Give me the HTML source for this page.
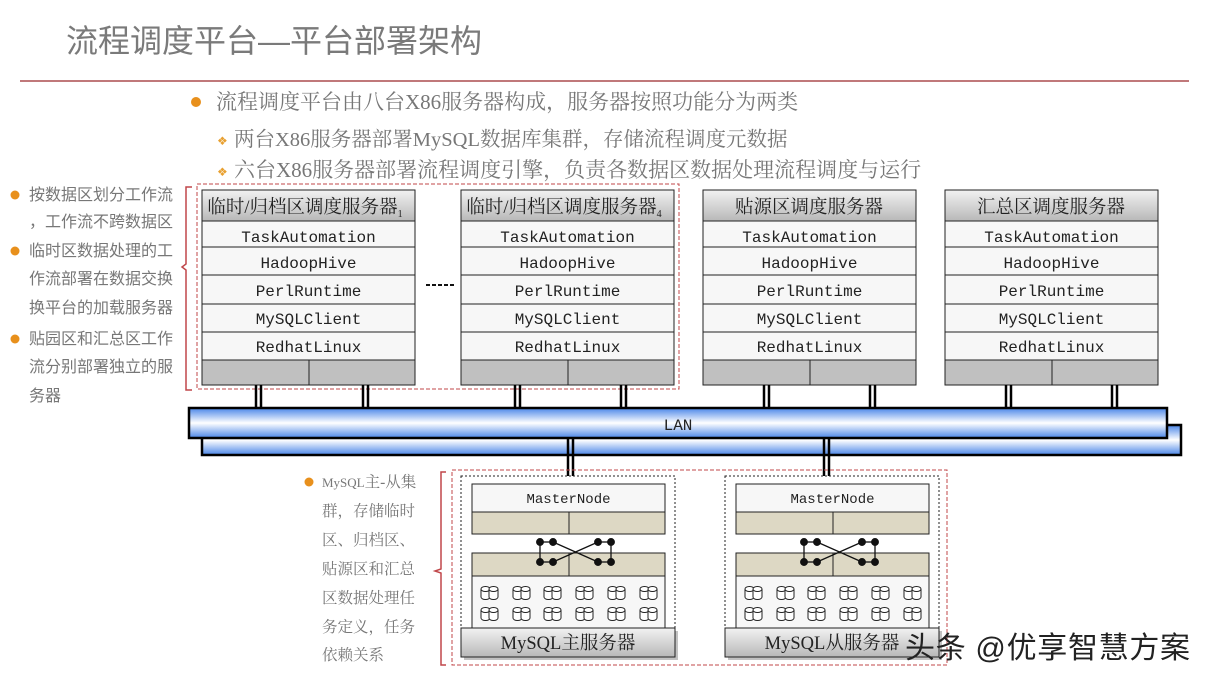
<!DOCTYPE html>
<html><head><meta charset="utf-8"><style>
body{margin:0;background:#fff;}
svg{display:block}
.t{font-family:"Liberation Mono","Noto Serif CJK SC",monospace;font-size:16px;fill:#222;text-anchor:middle}
.h{font-family:"Liberation Serif","Noto Serif CJK SC",serif;font-size:18.5px;fill:#222;text-anchor:middle}
.g{font-family:"Liberation Sans","Noto Sans CJK SC",sans-serif;fill:#777}
.s{font-family:"Liberation Serif","Noto Serif CJK SC",serif;fill:#777}
</style></head><body>
<svg width="1209" height="680" xmlns="http://www.w3.org/2000/svg">
<defs>
<linearGradient id="hg" x1="0" y1="0" x2="0" y2="1"><stop offset="0" stop-color="#f2f2f2"/><stop offset="1" stop-color="#b8b8b8"/></linearGradient>
<linearGradient id="lan" x1="0" y1="0" x2="0" y2="1"><stop offset="0" stop-color="#4a86e8"/><stop offset="0.5" stop-color="#ffffff"/><stop offset="1" stop-color="#4a86e8"/></linearGradient>
<g id="c1" fill="#fff" stroke="#222" stroke-width="1">
<path d="M0,3 L0,11 A4.5,2.5 0 0 0 9,11 L9,3"/>
<ellipse cx="4.5" cy="3" rx="4.5" ry="2.5"/>
</g>
<g id="cyl"><use href="#c1" x="0" y="0"/><use href="#c1" x="8" y="0"/></g>
<g id="srvrows">
<rect x="0" y="31" width="213" height="139" fill="#f7f7f7" stroke="#222"/>
<line x1="0" y1="57" x2="213" y2="57" stroke="#222"/>
<line x1="0" y1="85" x2="213" y2="85" stroke="#222"/>
<line x1="0" y1="114" x2="213" y2="114" stroke="#222"/>
<line x1="0" y1="142" x2="213" y2="142" stroke="#222"/>
<rect x="0" y="170" width="213" height="25" fill="#c0c0c0" stroke="#222"/>
<line x1="107" y1="170" x2="107" y2="195" stroke="#222"/>
<rect x="0" y="0" width="213" height="31" fill="url(#hg)" stroke="#222"/>
<text class="t" x="106.5" y="52">TaskAutomation</text>
<text class="t" x="106.5" y="78">HadoopHive</text>
<text class="t" x="106.5" y="106">PerlRuntime</text>
<text class="t" x="106.5" y="134">MySQLClient</text>
<text class="t" x="106.5" y="162">RedhatLinux</text>
</g>
<g id="dbl"><line x1="-2" y1="0" x2="-2" y2="22" stroke="#000" stroke-width="2.5"/><line x1="3" y1="0" x2="3" y2="22" stroke="#000" stroke-width="2.5"/></g>
<g id="mysql">
<rect x="0" y="0" width="214" height="181" fill="#fff" stroke="#222" stroke-dasharray="2,2"/>
<rect x="11" y="8" width="193" height="28" fill="#f7f7f7" stroke="#222"/>
<text class="t" x="107.5" y="27" style="font-size:14px">MasterNode</text>
<rect x="11" y="36" width="193" height="22" fill="#ddd8c4" stroke="#222"/>
<line x1="108" y1="36" x2="108" y2="58" stroke="#222"/>
<rect x="11" y="77" width="193" height="23" fill="#ddd8c4" stroke="#222"/>
<line x1="108" y1="77" x2="108" y2="100" stroke="#222"/>
<rect x="11" y="100" width="193" height="55" fill="#f7f7f7" stroke="#222"/>
<g stroke="#111" stroke-width="1.3" fill="#111">
<line x1="79" y1="66" x2="79" y2="86"/><line x1="150" y1="66" x2="150" y2="86"/>
<line x1="79" y1="66" x2="92" y2="66"/><line x1="79" y1="86" x2="92" y2="86"/>
<line x1="137" y1="66" x2="150" y2="66"/><line x1="137" y1="86" x2="150" y2="86"/>
<line x1="92" y1="66" x2="137" y2="86"/><line x1="92" y1="86" x2="137" y2="66"/>
<circle cx="79" cy="66" r="3.3"/><circle cx="92" cy="66" r="3.3"/><circle cx="137" cy="66" r="3.3"/><circle cx="150" cy="66" r="3.3"/>
<circle cx="79" cy="86" r="3.3"/><circle cx="92" cy="86" r="3.3"/><circle cx="137" cy="86" r="3.3"/><circle cx="150" cy="86" r="3.3"/>
</g>
<use href="#cyl" x="20" y="110"/><use href="#cyl" x="52" y="110"/><use href="#cyl" x="83" y="110"/><use href="#cyl" x="115" y="110"/><use href="#cyl" x="147" y="110"/><use href="#cyl" x="179" y="110"/>
<use href="#cyl" x="20" y="131"/><use href="#cyl" x="52" y="131"/><use href="#cyl" x="83" y="131"/><use href="#cyl" x="115" y="131"/><use href="#cyl" x="147" y="131"/><use href="#cyl" x="179" y="131"/>
<rect x="3" y="155" width="214" height="29" fill="#999" opacity="0.6"/>
<rect x="0" y="152" width="214" height="29" fill="url(#hg)" stroke="#222"/>
</g>
</defs>

<text class="g" x="66" y="52" style="font-size:32px;fill:#7a7a7a">流程调度平台—平台部署架构</text>
<line x1="20" y1="81" x2="1189" y2="81" stroke="#c0787a" stroke-width="2"/>

<circle cx="196" cy="102" r="5" fill="#e8901c"/>
<text class="s" x="216" y="109" style="font-size:21px">流程调度平台由八台X86服务器构成，服务器按照功能分为两类</text>
<text x="217" y="145" style="font-size:12px;fill:#e8a030">❖</text>
<text class="s" x="234" y="146" style="font-size:20.5px">两台X86服务器部署MySQL数据库集群，存储流程调度元数据</text>
<text x="217" y="176" style="font-size:12px;fill:#e8a030">❖</text>
<text class="s" x="234" y="177" style="font-size:21px">六台X86服务器部署流程调度引擎，负责各数据区数据处理流程调度与运行</text>

<g class="g" style="font-size:16px">
<circle cx="15" cy="195" r="4.5" fill="#e8901c"/><text x="29" y="200">按数据区划分工作流</text>
<text x="29" y="227">，工作流不跨数据区</text>
<circle cx="15" cy="251" r="4.5" fill="#e8901c"/><text x="29" y="256">临时区数据处理的工</text>
<text x="29" y="284">作流部署在数据交换</text>
<text x="29" y="313">换平台的加载服务器</text>
<circle cx="15" cy="339" r="4.5" fill="#e8901c"/><text x="29" y="344">贴园区和汇总区工作</text>
<text x="29" y="372">流分别部署独立的服</text>
<text x="29" y="401">务器</text>
</g>
<path d="M192,187 h-6 v77 l-4,3 l4,3 v120 h6" fill="none" stroke="#c0474a" stroke-width="1.5"/>
<rect x="197" y="184" width="482" height="205" fill="none" stroke="#c0474a" stroke-dasharray="4,2"/>

<g transform="translate(202,190)"><use href="#srvrows"/><text class="h" x="103" y="23">临时/归档区调度服务器<tspan style="font-size:10px" dy="4">1</tspan></text></g>
<g transform="translate(461,190)"><use href="#srvrows"/><text class="h" x="103" y="23">临时/归档区调度服务器<tspan style="font-size:10px" dy="4">4</tspan></text></g>
<g transform="translate(703,190)"><use href="#srvrows"/><text class="h" x="106" y="23">贴源区调度服务器</text></g>
<g transform="translate(945,190)"><use href="#srvrows"/><text class="h" x="106" y="23">汇总区调度服务器</text></g>
<line x1="426" y1="285" x2="456" y2="285" stroke="#111" stroke-width="2" stroke-dasharray="4,2"/>

<use href="#dbl" x="258" y="385"/><use href="#dbl" x="365" y="385"/>
<use href="#dbl" x="517" y="385"/><use href="#dbl" x="623" y="385"/>
<use href="#dbl" x="766" y="385"/><use href="#dbl" x="872" y="385"/>
<use href="#dbl" x="1008" y="385"/><use href="#dbl" x="1114" y="385"/>

<rect x="202" y="425" width="979" height="30" fill="url(#lan)" stroke="#000" stroke-width="2.5"/>
<rect x="189" y="408" width="978" height="30" fill="url(#lan)" stroke="#000" stroke-width="2.5"/>
<text class="t" x="678" y="430">LAN</text>

<g transform="translate(570,438)"><line x1="-2" y1="0" x2="-2" y2="38" stroke="#000" stroke-width="2.5"/><line x1="3" y1="0" x2="3" y2="38" stroke="#000" stroke-width="2.5"/></g>
<g transform="translate(826,438)"><line x1="-2" y1="0" x2="-2" y2="38" stroke="#000" stroke-width="2.5"/><line x1="3" y1="0" x2="3" y2="38" stroke="#000" stroke-width="2.5"/></g>

<g class="s" style="font-size:15.5px">
<circle cx="309" cy="482" r="4.5" fill="#e8901c"/><text x="322" y="487"><tspan style="font-size:13px">MySQL</tspan>主-从集</text>
<text x="322" y="516">群，存储临时</text>
<text x="322" y="545">区、归档区、</text>
<text x="322" y="574">贴源区和汇总</text>
<text x="322" y="603">区数据处理任</text>
<text x="322" y="632">务定义，任务</text>
<text x="322" y="660">依赖关系</text>
</g>
<path d="M446,472 h-5 v97 l-6,2 l6,2 v92 h5" fill="none" stroke="#c0474a" stroke-width="1.5"/>
<rect x="452" y="470" width="495" height="195" fill="none" stroke="#c0474a" stroke-dasharray="4,2"/>

<g transform="translate(461,476)"><use href="#mysql"/><text class="h" x="107" y="173">MySQL主服务器</text></g>
<g transform="translate(725,476)"><use href="#mysql"/><text class="h" x="107" y="173">MySQL从服务器</text></g>

<text x="905" y="658" style="font-family:'Liberation Sans','Noto Sans CJK SC',sans-serif;font-size:30px;fill:#222" textLength="285">头条 @优享智慧方案</text>
</svg>
</body></html>
